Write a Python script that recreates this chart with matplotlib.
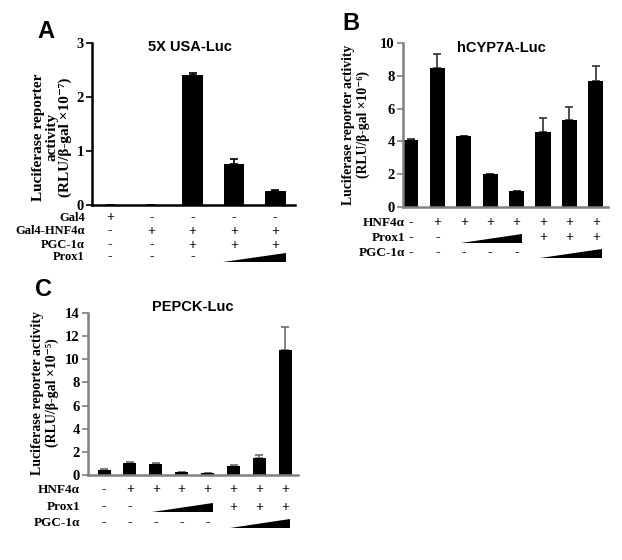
import matplotlib
matplotlib.use('Agg')
import matplotlib.pyplot as plt
import matplotlib.transforms as mtrans
import numpy as np

W, H = 622, 560

# panel A: 5X USA-Luc
a_vals = [0.0, 0.0, 2.40, 0.76, 0.26]
a_err = [0.0, 0.0, 0.04, 0.09, 0.02]
a_rows = [("Gal4", "+----"), ("Gal4-HNF4\u03b1", "-++++"),
          ("PGC-1\u03b1", "--+++"), ("Prox1", "--->>")]

# panel B: hCYP7A-Luc
b_vals = [4.1, 8.5, 4.3, 2.0, 0.95, 4.6, 5.3, 7.7]
b_err = [0.05, 0.85, 0.0, 0.04, 0.0, 0.8, 0.8, 0.9]
b_rows = [("HNF4\u03b1", "-+++++++"), ("Prox1", "-->>>+++"),
          ("PGC-1\u03b1", "-----"+">>>")]

# panel C: PEPCK-Luc
c_vals = [0.45, 1.05, 0.98, 0.25, 0.18, 0.78, 1.5, 10.8]
c_err = [0.05, 0.08, 0.04, 0.03, 0.02, 0.05, 0.22, 1.95]
c_rows = [("HNF4\u03b1", "-+++++++"), ("Prox1", "-->>>+++"),
          ("PGC-1\u03b1", "-----"+">>>")]

SERIF = ['Liberation Serif', 'DejaVu Serif']
SANS = ['Liberation Sans', 'DejaVu Sans']

fig = plt.figure(figsize=(W/100, H/100), dpi=100)
fig.patch.set_facecolor('white')

def fx(x):
    return x/W

def fy(y):
    return 1 - y/H

def panel(box, vals, err, xlim, ylim, yticks, width, spine_col, errcol):
    l, t, r, b = box
    ax = fig.add_axes([fx(l), fy(b), fx(r-l), (b-t)/H])
    x = np.arange(len(vals))
    lower = np.zeros(len(vals))
    ax.bar(x, vals, width=width, color='black', zorder=2)
    ax.errorbar(x, vals, yerr=[lower, err], fmt='none', ecolor=errcol,
                elinewidth=1.2, capsize=3, capthick=1.2, zorder=1)
    ax.set_xlim(*xlim)
    ax.set_ylim(*ylim)
    ax.set_yticks(yticks)
    ax.set_xticks([])
    for s in ['top', 'right']:
        ax.spines[s].set_visible(False)
    for s in ['left', 'bottom']:
        ax.spines[s].set_color(spine_col)
        ax.spines[s].set_linewidth(1.8)
    ax.tick_params(axis='y', direction='out', length=4, width=1.2,
                   color=spine_col, pad=2)
    for lab in ax.get_yticklabels():
        lab.set_family(SERIF)
        lab.set_fontweight('bold')
        lab.set_fontsize(10.5)
    return ax

def rows(ax, rowdef, ys, label_right, ramp_off, fs=9.5):
    tr = mtrans.blended_transform_factory(ax.transData, fig.transFigure)
    for (name, marks), y in zip(rowdef, ys):
        fig.text(fx(label_right), fy(y), name, ha='right', va='center',
                 family=SERIF, fontweight='bold', fontsize=fs)
        ramp = [i for i, m in enumerate(marks) if m == '>']
        for i, m in enumerate(marks):
            if m in '+-':
                ax.text(i, fy(y), m, transform=tr, ha='center', va='center',
                        family=SERIF, fontweight='bold', fontsize=10,
                        clip_on=False)
        if ramp:
            x0 = ramp[0] + ramp_off[0]
            x1 = ramp[-1] + ramp_off[1]
            yb = fy(y + 5)
            yt = fy(y - 4)
            ax.fill([x0, x1, x1], [yb, yb, yt], color='black',
                    transform=tr, clip_on=False, lw=0)

# A
axA = panel((92, 43, 295, 205), a_vals, a_err, (-0.44, 4.48), (0, 3),
            [0, 1, 2, 3], 0.5, 'black', 'black')
rows(axA, a_rows, [218, 231, 245, 257], 85, (-0.27, 0.25), fs=9)
fig.text(fx(46), fy(32), "A", ha='center', va='center', family=SANS,
         fontweight='bold', fontsize=17)
fig.text(fx(190), fy(47), "5X USA-Luc", ha='center', va='center',
         family=SANS, fontweight='bold', fontsize=10.5)
fig.text(fx(52), fy(137),
         "Luciferase reporter\nactivity\n(RLU/\u03b2-gal \u00d710\u207b\u2077)",
         ha='center', va='center', rotation=90, family=SERIF,
         fontweight='bold', fontsize=11, linespacing=1.0)

# B
axB = panel((403, 43, 608, 207), b_vals, b_err, (-0.30, 7.46), (0, 10),
            [0, 2, 4, 6, 8, 10], 0.57, '#808080', '#303030')
rows(axB, b_rows, [223, 238, 253], 405, (-0.12, 0.22))
fig.text(fx(351), fy(23), "B", ha='center', va='center', family=SANS,
         fontweight='bold', fontsize=17)
fig.text(fx(501), fy(48), "hCYP7A-Luc", ha='center', va='center',
         family=SANS, fontweight='bold', fontsize=10.5)
fig.text(fx(356), fy(125),
         "Luciferase reporter activity\n(RLU/\u03b2-gal \u00d710\u207b\u2076)",
         ha='center', va='center', rotation=90, family=SERIF,
         fontweight='bold', fontsize=9.8, linespacing=1.1)

# C
axC = panel((88, 313, 298, 475), c_vals, c_err, (-0.62, 7.49), (0, 14),
            [0, 2, 4, 6, 8, 10, 12, 14], 0.5, '#808080', '#707070')
rows(axC, c_rows, [490, 507, 523], 80, (-0.15, 0.2))
fig.text(fx(44), fy(290), "C", ha='center', va='center', family=SANS,
         fontweight='bold', fontsize=17)
fig.text(fx(193), fy(307), "PEPCK-Luc", ha='center', va='center',
         family=SANS, fontweight='bold', fontsize=10.5)
fig.text(fx(45), fy(393),
         "Luciferase reporter activity\n(RLU/\u03b2-gal \u00d710\u207b\u2075)",
         ha='center', va='center', rotation=90, family=SERIF,
         fontweight='bold', fontsize=10, linespacing=1.1)

fig.savefig('out.png', dpi=100)
